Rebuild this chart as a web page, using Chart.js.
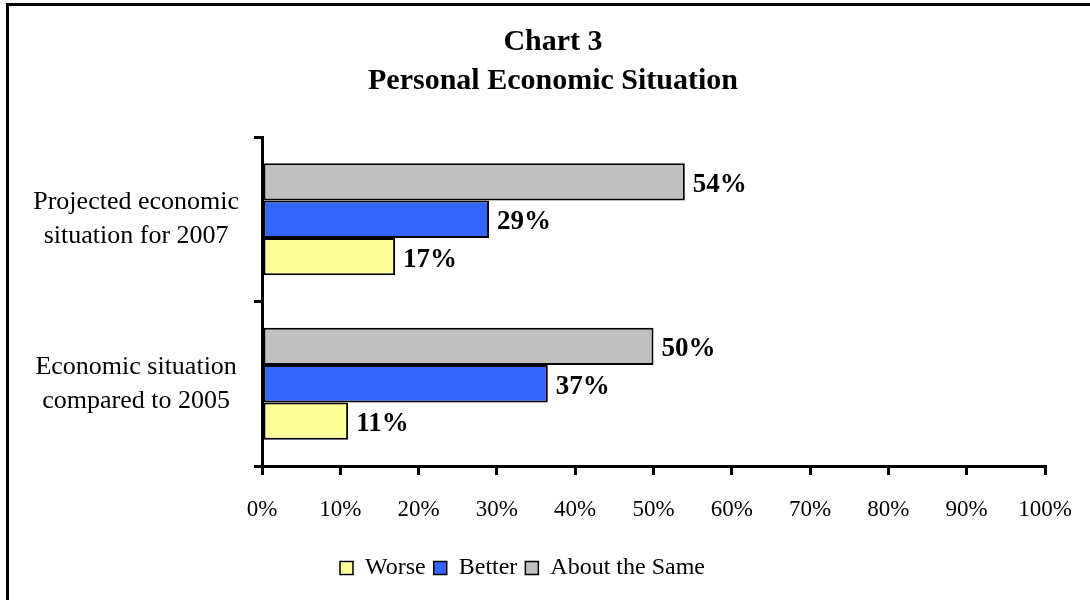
<!DOCTYPE html>
<html>
<head>
<meta charset="utf-8">
<script src="https://cdn.jsdelivr.net/npm/chart.js@4"></script>
<style>
  html, body { margin: 0; padding: 0; background: #fff; }
  #wrap { position: relative; width: 1090px; height: 600px; }
  #frame {
    position: absolute; left: 6px; top: 3px; width: 1090px; height: 594px;
    border-left: 3px solid #000; border-top: 3px solid #000; border-bottom: 1px solid #999;
    pointer-events: none;
  }
</style>
</head>
<body>
<div id="wrap">
  <canvas id="chart" width="1090" height="600"></canvas>
  <div id="frame"></div>
</div>
<script>
const titleLines = ["Chart 3", "Personal Economic Situation"];
const categories = [["Projected economic", "situation for 2007"], ["Economic situation", "compared to 2005"]];
const seriesNames = ["About the Same", "Better", "Worse"];
const aboutSame = [54, 50];
const better = [29, 36.5];
const worse = [17, 11];
const seriesColors = ["#C0C0C0", "#3366FF", "#FFFF99"];
const xTicks = [0, 10, 20, 30, 40, 50, 60, 70, 80, 90, 100];

const serif = "'Liberation Serif', 'Times New Roman', serif";

// titre dessiné à la main pour le centrer comme l'original
const titlePlugin = {
    id: "titleText",
    afterDraw(chart) {
        const ctx = chart.ctx;
        ctx.save();
        ctx.fillStyle = "#000";
        ctx.font = "bold 30px " + serif;
        ctx.textAlign = "center";
        ctx.textBaseline = "middle";
        ctx.fillText(titleLines[0], 553, 42);
        ctx.fillText(titleLines[1], 553, 81);
        ctx.restore();
    },
};

// étiquettes de valeur au bout des barres
const valueLabels = {
    id: "valueLabels",
    afterDatasetsDraw(chart) {
        const ctx = chart.ctx;
        ctx.save();
        ctx.fillStyle = "#000";
        ctx.font = "bold 27px " + serif;
        ctx.textAlign = "left";
        ctx.textBaseline = "middle";
        chart.data.datasets.forEach((ds, i) => {
            chart.getDatasetMeta(i).data.forEach((bar, j) => {
                ctx.fillText(Math.round(ds.data[j]) + "%", bar.x + 8, bar.y + 3);
            });
        });
        ctx.restore();
    },
};

new Chart(document.getElementById("chart"), {
    type: "bar",
    data: {
        labels: categories,
        datasets: [
            { label: seriesNames[0], data: aboutSame, backgroundColor: seriesColors[0] },
            { label: seriesNames[1], data: better, backgroundColor: seriesColors[1] },
            { label: seriesNames[2], data: worse, backgroundColor: seriesColors[2] },
        ],
    },
    options: {
        indexAxis: "y",
        responsive: false,
        animation: false,
        layout: { padding: { top: 137, right: 45, left: 0, bottom: 10 } },
        datasets: {
            bar: {
                borderColor: "#000",
                borderWidth: 2,
                borderSkipped: false,
                categoryPercentage: 0.68,
                barPercentage: 1.0,
            },
        },
        scales: {
            x: {
                min: 0,
                max: 100,
                afterBuildTicks: (scale) => { scale.ticks = xTicks.map((v) => ({ value: v })); },
                afterFit: (scale) => {
                    scale.height = 82;
                    scale.paddingLeft = 0;
                    scale.paddingRight = 0;
                },
                ticks: {
                    callback: (v) => v + "%",
                    color: "#000",
                    font: { family: serif, size: 23 },
                    padding: 21,
                    maxRotation: 0,
                },
                grid: { drawOnChartArea: false, drawTicks: true, tickLength: 9, color: "#000", lineWidth: 3 },
                border: { display: true, color: "#000", width: 3 },
            },
            y: {
                afterFit: (scale) => { scale.width = 262; },
                ticks: {
                    color: "#000",
                    font: { family: serif, size: 26, lineHeight: 1.31 },
                    crossAlign: "center",
                    padding: 15,
                },
                grid: { drawOnChartArea: false, drawTicks: true, tickLength: 8, color: "#000", lineWidth: 3 },
                border: { display: true, color: "#000", width: 3 },
            },
        },
        plugins: {
            title: { display: false },
            tooltip: { enabled: false },
            legend: {
                position: "bottom",
                reverse: true,
                labels: {
                    color: "#000",
                    font: { family: serif, size: 24 },
                    boxWidth: 13,
                    boxHeight: 13,
                    padding: 8,
                    useBorderRadius: false,
                    generateLabels: (chart) => chart.data.datasets.map((ds, i) => ({
                        text: ds.label,
                        fillStyle: ds.backgroundColor,
                        strokeStyle: "#000",
                        lineWidth: 1.5,
                        datasetIndex: i,
                        hidden: false,
                    })),
                },
            },
        },
    },
    plugins: [titlePlugin, valueLabels],
});
</script>
</body>
</html>
